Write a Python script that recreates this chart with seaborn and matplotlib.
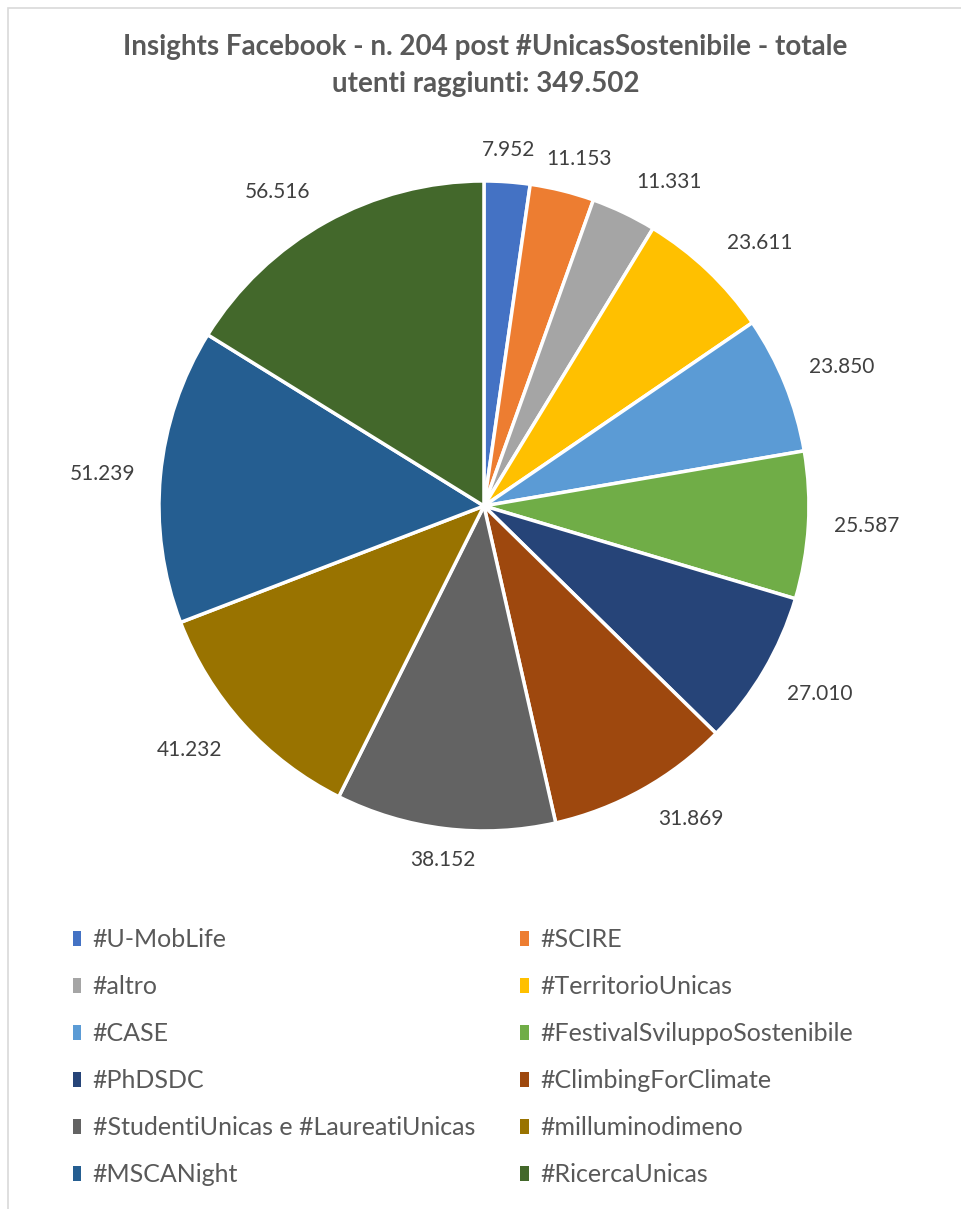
import numpy as np
import seaborn as sns
import matplotlib.pyplot as plt
from matplotlib.patches import Rectangle

categories = ["#U-MobLife", "#SCIRE", "#altro", "#TerritorioUnicas", "#CASE",
              "#FestivalSviluppoSostenibile", "#PhDSDC", "#ClimbingForClimate",
              "#StudentiUnicas e #LaureatiUnicas", "#milluminodimeno",
              "#MSCANight", "#RicercaUnicas"]
values = [7952, 11153, 11331, 23611, 23850, 25587, 27010, 31869, 38152, 41232, 51239, 56516]
colors = ["#4472C4", "#ED7D31", "#A5A5A5", "#FFC000", "#5B9BD5", "#70AD47",
          "#264478", "#9E480E", "#636363", "#997300", "#255E91", "#43682B"]

total = sum(values)
labels = [f"{v:,}".replace(",", ".") for v in values]

sns.set_theme(style="white")
plt.rcParams['font.family'] = ['Lato', 'DejaVu Sans']

fig = plt.figure(figsize=(9.61, 12.09), dpi=100)
fig.patches.append(Rectangle((8 / 961, -0.01), 1.1, 1 - 8 / 1209 + 0.01, transform=fig.transFigure,
                             fill=False, edgecolor="#D9D9D9", linewidth=1.2))

ax = fig.add_axes([0.1654, 0.3127, 0.6764, 0.5376])
wedges, texts = ax.pie(values, labels=labels, colors=colors, startangle=90, counterclock=False,
                       wedgeprops=dict(edgecolor="white", linewidth=2.5),
                       textprops=dict(fontsize=15, color="#404040"))
ax.set_xlim(-1, 1)
ax.set_ylim(-1, 1)
ax.set_aspect("equal")

# best-fit style labels: label box sits just outside the rim (radius = 325 px)
R, gap, hw, hh = 325, 18, 40, 14
for w, t in zip(wedges, texts):
    ang = np.deg2rad((w.theta1 + w.theta2) / 2)
    c, s = np.cos(ang), np.sin(ang)
    fx = np.clip((abs(c) - 0.15) / 0.3, 0, 1) * np.sign(c)
    fy = np.clip((abs(s) - 0.15) / 0.3, 0, 1) * np.sign(s)
    x = c + (gap * c + hw * fx) / R
    y = s + (gap * s + hh * fy) / R
    t.set_position((x, y))
    t.set_ha("center")
    t.set_va("center")

fig.suptitle(f"Insights Facebook - n. 204 post #UnicasSostenibile - totale\nutenti raggiunti: {f'{total:,}'.replace(',', '.')}",
             x=0.505, y=0.972, fontsize=20, fontweight="bold", color="#595959", linespacing=1.55)

# row-first ordering for the two-column legend
order = list(range(0, len(values), 2)) + list(range(1, len(values), 2))
leg = fig.legend([wedges[i] for i in order], [categories[i] for i in order], ncol=2,
                 loc="upper left", bbox_to_anchor=(0.0625, 0.2425), frameon=False, borderpad=0,
                 fontsize=18, labelcolor="#595959", handlelength=0.35, handleheight=0.5,
                 handletextpad=0.45, columnspacing=1.82, labelspacing=0.96)
for h in leg.legend_handles:
    h.set_edgecolor("none")

fig.savefig("out.png", dpi=100)
